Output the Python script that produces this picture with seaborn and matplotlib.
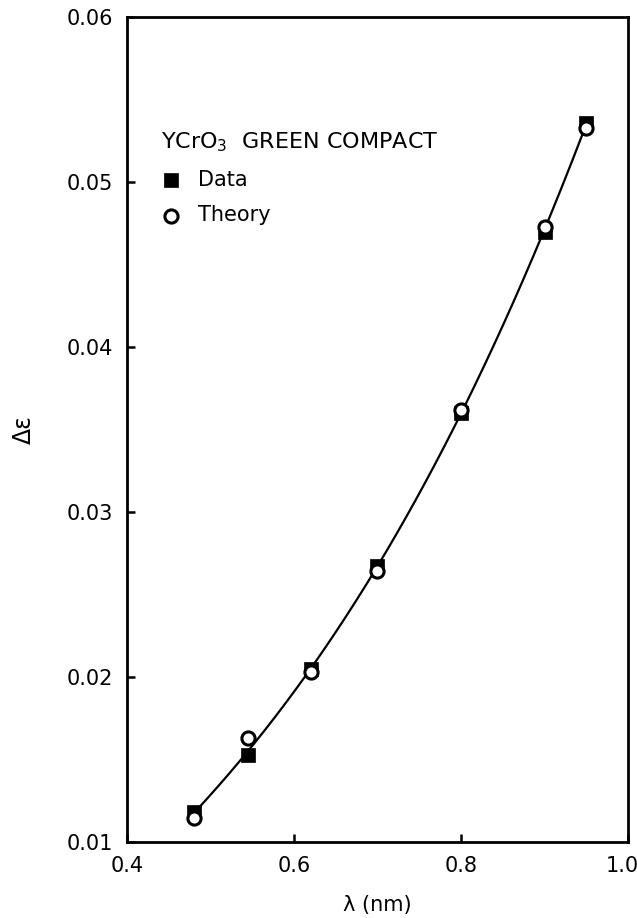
import numpy as np
import pandas as pd
import seaborn as sns
import matplotlib
matplotlib.use("Agg")
import matplotlib.pyplot as plt
from matplotlib.transforms import ScaledTranslation

wavelength = [0.48, 0.545, 0.62, 0.70, 0.80, 0.90, 0.95]
data_vals = [0.0118, 0.0153, 0.0205, 0.0267, 0.0360, 0.0470, 0.0536]
theory_vals = [0.01145, 0.0163, 0.0203, 0.0264, 0.0362, 0.0473, 0.0533]
xticks = [0.4, 0.6, 0.8, 1.0]
yticks = [0.01, 0.02, 0.03, 0.04, 0.05, 0.06]
xtick_labels = ["0.4", "0.6", "0.8", "1.0"]
ytick_labels = ["0.01", "0.02", "0.03", "0.04", "0.05", "0.06"]

sns.set_theme(style="ticks")
plt.rcParams['font.family'] = ['DejaVu Sans']
plt.rcParams['text.color'] = 'black'
plt.rcParams['axes.labelcolor'] = 'black'
plt.rcParams['legend.labelcolor'] = 'black'

df = pd.DataFrame({"lam": wavelength, "data": data_vals, "theory": theory_vals})

# smooth curve fitted through the mean of data & theory
coef = np.polyfit(df["lam"], (df["data"] + df["theory"]) / 2, 3)
xs = np.linspace(min(wavelength), max(wavelength), 200)
curve = pd.DataFrame({"lam": xs, "val": np.polyval(coef, xs)})

fig = plt.figure(figsize=(6.37, 9.18), dpi=100)
ax = fig.add_axes([127/637, 1 - 842/918, (628-127)/637, (842-17)/918])

sns.lineplot(data=curve, x="lam", y="val", ax=ax, color="black", lw=1.6, zorder=2)
sns.scatterplot(data=df, x="lam", y="data", ax=ax, marker="s", s=115, color="black",
                edgecolor="black", linewidth=0.5, zorder=3, label="Data")
sns.scatterplot(data=df, x="lam", y="theory", ax=ax, marker="o", s=90, facecolor="white",
                edgecolor="black", linewidth=2.2, zorder=4, label="Theory")

ax.set_xlim(0.4, 1.0)
ax.set_ylim(0.01, 0.06)
ax.set_xticks(xticks)
ax.set_xticklabels(xtick_labels)
ax.set_yticks(yticks)
ax.set_yticklabels(ytick_labels)
ax.tick_params(direction="in", length=6, width=1.8, labelsize=15, pad=10, colors="black")
for s in ax.spines.values():
    s.set_linewidth(2.0)
    s.set_color("black")
ax.set_xlabel("λ (nm)", fontsize=15, labelpad=14)
ax.set_ylabel("Δε", fontsize=17, labelpad=22)

# nudge the last x tick label inward so it is not clipped
lbl = ax.get_xticklabels()[-1]
lbl.set_transform(lbl.get_transform() + ScaledTranslation(-6/100, 0, fig.dpi_scale_trans))

leg = ax.legend(title="YCrO$_3$  GREEN COMPACT", loc="upper left",
                bbox_to_anchor=(0.03, 0.885), frameon=False, fontsize=15,
                title_fontsize=16, handletextpad=0.8, labelspacing=0.75,
                alignment="left", handlelength=1.0)
leg.get_title().set_color("black")

fig.savefig("out.png", dpi=100)
